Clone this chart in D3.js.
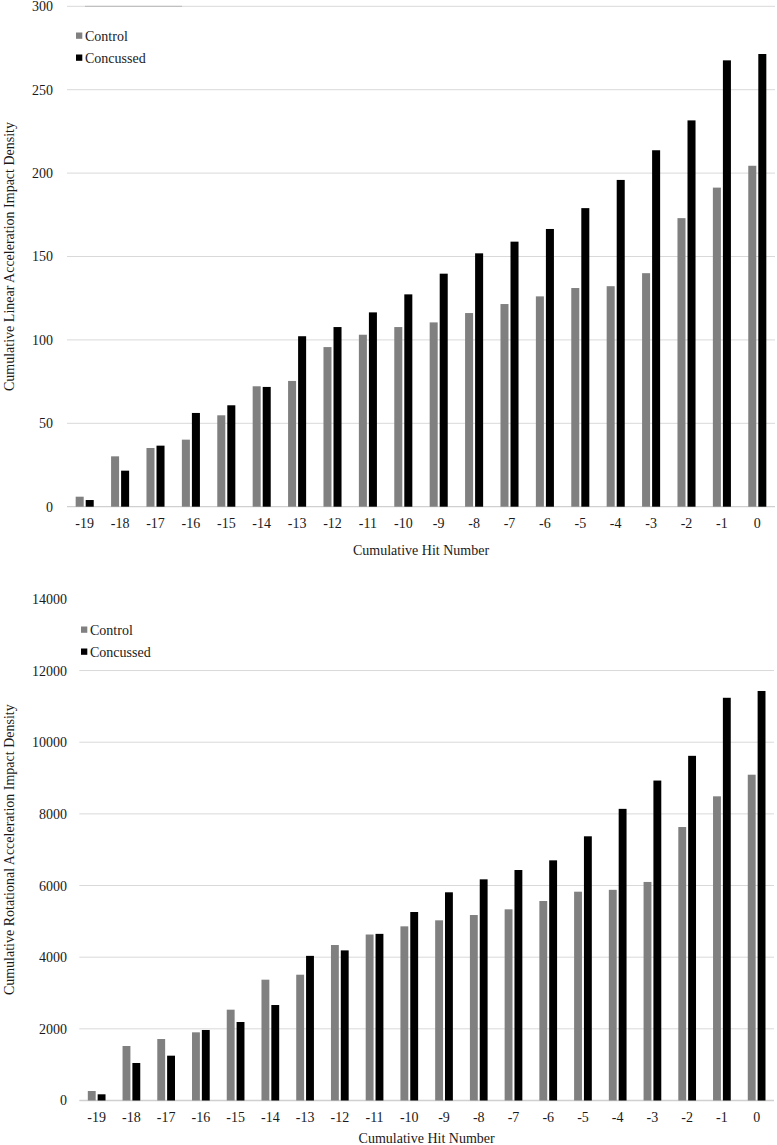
<!DOCTYPE html>
<html>
<head>
<meta charset="utf-8">
<script src="https://cdn.jsdelivr.net/npm/d3@7"></script>
<style>
  html, body { margin: 0; padding: 0; background: #fff; }
  svg, svg text { font-family: 'Liberation Serif', 'Times New Roman', Tinos, 'DejaVu Serif', serif !important; }
</style>
</head>
<body>
<svg id="chart" width="777" height="1145"></svg>
<script>
// ---------- data ----------
const categories = ["-19","-18","-17","-16","-15","-14","-13","-12","-11","-10","-9","-8","-7","-6","-5","-4","-3","-2","-1","0"];
const seriesNames = ["Control", "Concussed"];

const linearControl   = [6, 30.2, 35.2, 40.2, 54.8, 72.2, 75.4, 95.7, 103.1, 107.7, 110.5, 116.1, 121.5, 126.1, 131.1, 132.2, 140, 173, 191.3, 204.4];
const linearConcussed = [4, 21.6, 36.6, 56.2, 60.8, 71.8, 102.2, 107.7, 116.5, 127.3, 139.7, 151.9, 158.9, 166.5, 179, 195.9, 213.7, 231.6, 267.6, 271.4];
const linearTicks = [0, 50, 100, 150, 200, 250, 300];

const rotControl   = [265, 1521, 1716, 1903, 2535, 3372, 3511, 4340, 4633, 4861, 5029, 5177, 5336, 5568, 5828, 5880, 6100, 7633, 8490, 9093];
const rotConcussed = [173, 1047, 1251, 1968, 2191, 2665, 4037, 4190, 4651, 5261, 5811, 6173, 6433, 6703, 7374, 8140, 8930, 9620, 11240, 11430];
const rotTicks = [0, 2000, 4000, 6000, 8000, 10000, 12000, 14000];

const xTitle = "Cumulative Hit Number";
const linearTitle = "Cumulative Linear Acceleration Impact Density";
const rotTitle = "Cumulative Rotational Acceleration Impact Density";

// ---------- drawing ----------
const FONT = "'Liberation Serif', 'Times New Roman', Tinos, 'DejaVu Serif', serif";
const svg = d3.select("#chart");
const colors = { Control: "#808080", Concussed: "#000000" };
const textColor = "#1a1a1a";

function styleText(sel) {
  sel.style("font-family", FONT).attr("font-size", 14).attr("fill", textColor);
}

function drawChart(opt) {
  const g = svg.append("g");
  const x0 = d3.scaleBand().domain(categories)
    .range([opt.left, opt.right]).paddingInner(0.49).paddingOuter(0.245);
  const x1 = d3.scaleBand().domain(seriesNames)
    .range([0, x0.bandwidth()]).paddingInner(0.2).paddingOuter(0);
  const y = d3.scaleLinear().domain([0, opt.ticks[opt.ticks.length - 1]])
    .range([opt.bottom, opt.top]);

  // gridlines
  g.append("g").selectAll("line")
    .data(opt.ticks.filter(t => opt.gridTop || t !== opt.ticks[opt.ticks.length - 1]))
    .join("line")
    .attr("x1", opt.left).attr("x2", opt.right)
    .attr("y1", d => y(d)).attr("y2", d => y(d))
    .attr("stroke", d => d === 0 ? "#d0d0d0" : "#d9d9d9")
    .attr("stroke-width", d => d === 0 ? 1.3 : 1);

  // bars
  const rows = categories.map((c, i) => ({ cat: c, Control: opt.control[i], Concussed: opt.concussed[i] }));
  g.append("g").selectAll("g")
    .data(rows).join("g")
    .attr("transform", d => `translate(${x0(d.cat)},0)`)
    .selectAll("rect")
    .data(d => seriesNames.map(s => ({ s, v: d[s] })))
    .join("rect")
    .attr("x", d => x1(d.s))
    .attr("width", x1.bandwidth())
    .attr("y", d => y(d.v))
    .attr("height", d => y(0) - y(d.v))
    .attr("fill", d => colors[d.s]);

  // x axis labels
  const xAxis = g.append("g").attr("transform", `translate(0,${y(0)})`)
    .call(d3.axisBottom(x0).tickSize(0).tickPadding(opt.xPad));
  xAxis.attr("font-family", null);
  xAxis.select(".domain").remove();
  styleText(xAxis.selectAll("text"));

  // y axis labels
  const yAxis = g.append("g").attr("transform", `translate(${opt.left},0)`)
    .call(d3.axisLeft(y).tickValues(opt.ticks).tickFormat(d3.format("d")).tickSize(0).tickPadding(opt.yPad));
  yAxis.attr("font-family", null);
  yAxis.select(".domain").remove();
  styleText(yAxis.selectAll("text"));

  // axis titles
  styleText(g.append("text")
    .attr("transform", `translate(${opt.yTitleX},${(opt.top + opt.bottom) / 2}) rotate(-90)`)
    .attr("text-anchor", "middle")
    .text(opt.yTitle));
  styleText(g.append("text")
    .attr("x", (opt.left + opt.right) / 2).attr("y", opt.xTitleY)
    .attr("text-anchor", "middle")
    .text(xTitle));

  // legend
  const leg = g.append("g").attr("transform", `translate(${opt.legX},${opt.legY})`);
  if (opt.legendEdge) {
    leg.append("line").attr("x1", 9).attr("x2", 106)
      .attr("y1", y(opt.ticks[opt.ticks.length - 1]) - opt.legY)
      .attr("y2", y(opt.ticks[opt.ticks.length - 1]) - opt.legY)
      .attr("stroke", "#b8b8b8").attr("stroke-width", 1);
  }
  const items = leg.selectAll("g.item").data(seriesNames).join("g")
    .attr("class", "item")
    .attr("transform", (d, i) => `translate(0,${i * 22})`);
  items.append("rect").attr("x", 0).attr("y", -8).attr("width", 6.3).attr("height", 6.3)
    .attr("fill", d => colors[d]);
  styleText(items.append("text").attr("x", 9).attr("y", 0).text(d => d));
}

drawChart({
  control: linearControl, concussed: linearConcussed, ticks: linearTicks,
  left: 67, right: 775, top: 6.3, bottom: 506.7,
  xPad: 11.4, yPad: 14, yTitle: linearTitle, yTitleX: 14, xTitleY: 555,
  legX: 76, legY: 40.5, legendEdge: true, gridTop: true
});

drawChart({
  control: rotControl, concussed: rotConcussed, ticks: rotTicks,
  left: 79.3, right: 774, top: 598.9, bottom: 1100.5,
  xPad: 11.5, yPad: 12.3, yTitle: rotTitle, yTitleX: 14, xTitleY: 1142.5,
  legX: 81, legY: 634.5, legendEdge: false, gridTop: false
});
</script>
</body>
</html>
